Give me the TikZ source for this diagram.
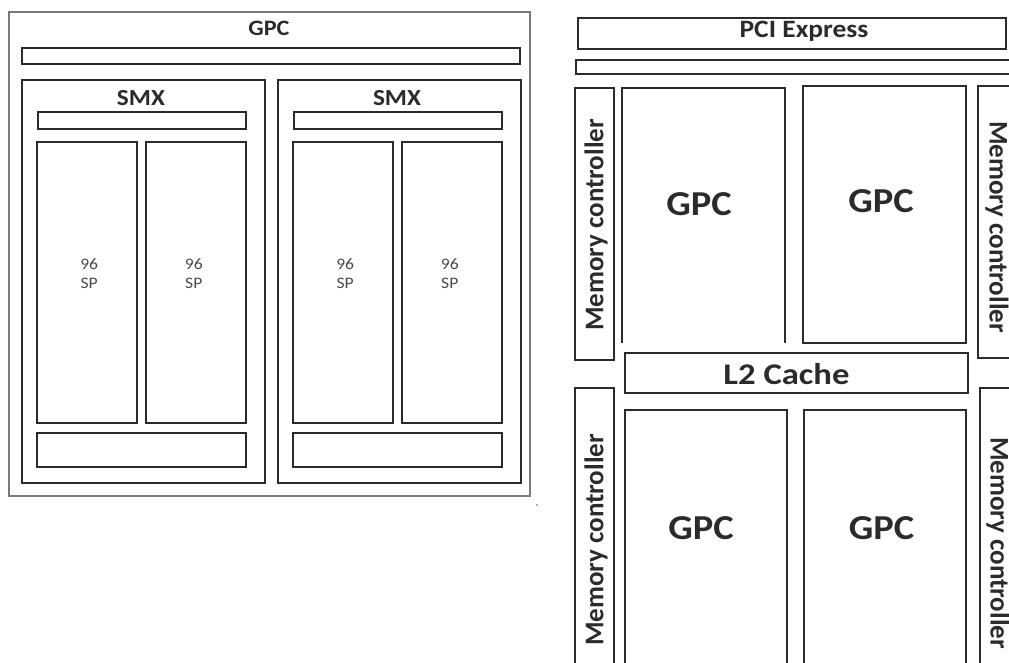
\documentclass[tikz,border=0pt]{standalone}
\usepackage{fontspec}
\setmainfont{Carlito}
\usepackage{tikz}
\definecolor{ink}{HTML}{2B2B2B}
\definecolor{frame}{HTML}{7A7A7A}
\definecolor{sptext}{HTML}{4A4A4A}

\begin{document}
\begin{tikzpicture}[x=1pt,y=-1pt,
  blk/.style={draw=ink,line width=1.7pt,inner sep=0pt},
  outer/.style={draw=frame,line width=1.3pt,inner sep=0pt},
  lbl/.style={font=\bfseries\fontsize{#1}{#1}\selectfont,text=ink,inner sep=0pt,anchor=base,xscale=1.1},
  mc/.style={font=\bfseries\fontsize{27}{27}\selectfont,text=ink,inner sep=0pt},
  sp/.style={font=\fontsize{16}{19}\selectfont,text=sptext,align=center,inner sep=0pt,xscale=1.1}]
  \useasboundingbox (0,0) rectangle (1009,663);
  \clip (0,0) rectangle (1009,663);
  % left: one GPC
  \node[outer,minimum width=521pt,minimum height=484pt] (gpc) at (269.5,254) {};
  \node[lbl=22] (gpct) at (269,36) {GPC};
  \node[blk,minimum width=498pt,minimum height=16pt] (gpcbar) at (271,56) {};
  \foreach \s/\x in {A/143.5,B/399.5}{
    \node[blk,minimum width=243pt,minimum height=403pt] (smx\s) at (\x,281.5) {};
    \node[lbl=23] (smx\s t) at (\x-2.5,106) {SMX};
    \node[blk,minimum width=208pt,minimum height=17pt] (smx\s bar) at (\x-1.5,120.5) {};
    \node[blk,minimum width=100pt,minimum height=281pt] (smx\s p1) at (\x-56.5,282.5) {};
    \node[blk,minimum width=100pt,minimum height=281pt] (smx\s p2) at (\x+52.5,282.5) {};
    \node[sp] (smx\s s1) at (smx\s p1.center) [xshift=2pt,yshift=8.5pt] {96\\SP};
    \node[sp] (smx\s s2) at (smx\s p2.center) [xshift=-2pt,yshift=8.5pt] {96\\SP};
    \node[blk,minimum width=209pt,minimum height=34pt] (smx\s bot) at (\x-2,450) {};
  }
  \fill[frame] (537,505) circle (1pt);
  % right: the chip
  \node[blk,minimum width=428pt,minimum height=31pt] (pci) at (792,33.5) {};
  \node[lbl=25] (pcit) at (804,38) {PCI Express};
  \node[blk,minimum width=441pt,minimum height=14pt] (bus) at (796.5,67) {};
  \node[blk,minimum width=39pt,minimum height=272pt] (mc1) at (594.5,224) {};
  \node[blk,minimum width=40pt,minimum height=272pt] (mc2) at (998,222) {};
  \node[blk,minimum width=39pt,minimum height=284pt] (mc3) at (594.5,530) {};
  \node[blk,minimum width=38pt,minimum height=284pt] (mc4) at (999,530) {};
  \node[mc,rotate=90] (mc1t) at (596,225) {Memory controller};
  \node[mc,rotate=-90] (mc2t) at (997,227) {Memory controller};
  \node[mc,rotate=90] (mc3t) at (596,540) {Memory controller};
  \node[mc,rotate=-90] (mc4t) at (998,543) {Memory controller};
  \node[minimum width=163pt,minimum height=255pt,inner sep=0pt] (g1) at (703.5,215.5) {};
  \draw[ink,line width=1.7pt] (g1.south west) |- (g1.north east) -- (g1.south east);
  \node[blk,minimum width=163pt,minimum height=257pt] (g2) at (884.5,214.5) {};
  \node[blk,minimum width=343pt,minimum height=40pt] (l2) at (796.5,373) {};
  \node[lbl=30,xscale=1.05] (l2t) at (786.5,384) {L2 Cache};
  \node[blk,minimum width=162pt,minimum height=264pt] (g3) at (706,542) {};
  \node[blk,minimum width=162pt,minimum height=264pt] (g4) at (885,542) {};
  \node[lbl=35] (g1t) at (699,215) {GPC};
  \node[lbl=35] (g2t) at (881,213) {GPC};
  \node[lbl=35] (g3t) at (701,539) {GPC};
  \node[lbl=35] (g4t) at (881.5,539) {GPC};
\end{tikzpicture}
\end{document}
